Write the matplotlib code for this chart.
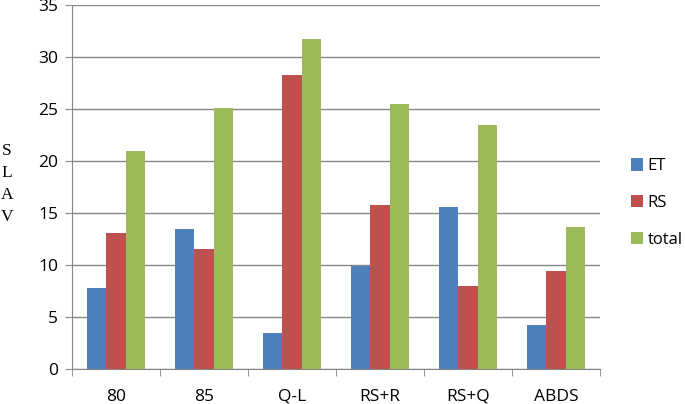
import matplotlib

matplotlib.use("Agg")
import matplotlib.pyplot as plt
import numpy as np

categories = ["80", "85", "Q-L", "RS+R", "RS+Q", "ABDS"]
series_names = ["ET", "RS", "total"]
et = [7.85, 13.5, 3.5, 9.95, 15.6, 4.3]
rs = [13.1, 11.6, 28.3, 15.75, 8.0, 9.4]
total = [21.0, 25.1, 31.7, 25.5, 23.5, 13.7]
colors = ["#4f81bd", "#c0504d", "#9bbb59"]

plt.rcParams["font.family"] = ["Open Sans", "DejaVu Sans"]

fig = plt.figure(figsize=(6.85, 4.04), dpi=100)
ax = fig.add_axes([72 / 685, 1 - 369.3 / 404, (600 - 72) / 685, (369.3 - 5) / 404])

x = np.arange(len(categories))
width = 0.22
for i, (name, vals) in enumerate(zip(series_names, [et, rs, total])):
    ax.bar(x + (i - 1) * width, vals, width, color=colors[i], label=name, zorder=3)

ax.set_xlim(-0.5, len(categories) - 0.5)
ax.set_ylim(0, 35)
ax.set_yticks(range(0, 36, 5))
ax.set_xticks(x)
ax.set_xticklabels(categories)
ax.set_xticks(np.arange(-0.5, len(categories), 1), minor=True)
ax.tick_params(axis="x", which="major", length=0, pad=14, labelsize=12.5)
ax.tick_params(axis="x", which="minor", length=5, color="#868686")
ax.tick_params(axis="y", length=5, color="#868686", labelsize=12.5, pad=5)
ax.grid(axis="y", color="#868686", linewidth=1, zorder=0)
for s in ["top", "right"]:
    ax.spines[s].set_visible(False)
for s in ["left", "bottom"]:
    ax.spines[s].set_color("#868686")

fig.text(7 / 685, 1 - 184 / 404, "S\nL\nA\nV", family="Liberation Serif", fontsize=12.5,
         ha="center", va="center", linespacing=1.5)

leg = ax.legend(loc="center left", bbox_to_anchor=(1.03, 0.456), frameon=False, fontsize=12,
                handlelength=0.75, handleheight=0.75, handletextpad=0.25, labelspacing=1.25)

fig.savefig("out.png", dpi=100)
